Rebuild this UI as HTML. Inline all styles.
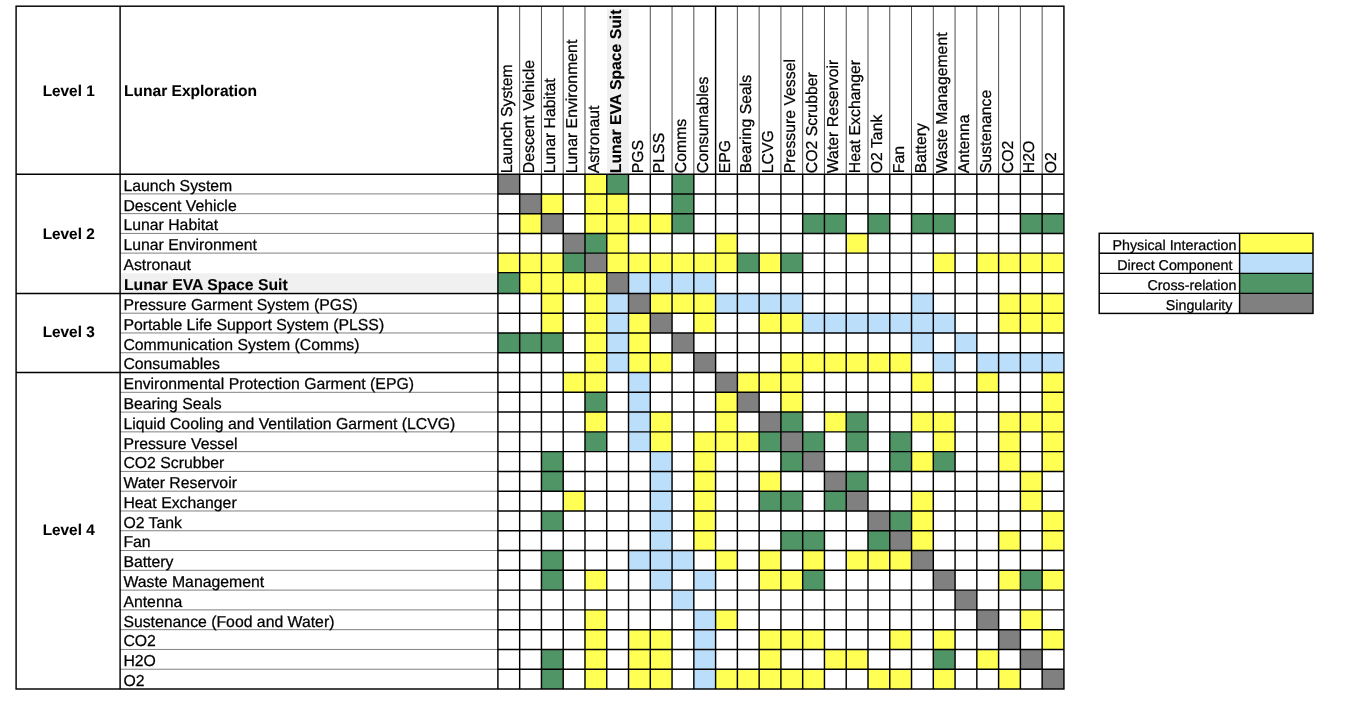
<!DOCTYPE html>
<html lang="en"><head><meta charset="utf-8"><title>Lunar Exploration DSM</title>
<style>html,body{margin:0;padding:0;background:#fff}svg{display:block}text{font-family:"Liberation Sans",Arial,Helvetica,sans-serif;fill:#000;stroke:#000;stroke-width:0.25px;text-rendering:geometricPrecision}.b{font-weight:bold;font-size:15.75px;stroke-width:0.1px}</style></head><body>
<svg width="1350" height="711" viewBox="0 0 1350 711">
<rect width="1350" height="711" fill="#fff"/>
<rect x="120.70" y="273.3" width="376.60" height="18.5" fill="#f0f0f0"/>
<g stroke="#4d4d4d" stroke-width="1">
<line x1="519.67" y1="6.2" x2="519.67" y2="174.2"/>
<line x1="541.44" y1="6.2" x2="541.44" y2="174.2"/>
<line x1="563.21" y1="6.2" x2="563.21" y2="174.2"/>
<line x1="584.98" y1="6.2" x2="584.98" y2="174.2"/>
<line x1="650.29" y1="6.2" x2="650.29" y2="174.2"/>
<line x1="672.06" y1="6.2" x2="672.06" y2="174.2"/>
<line x1="693.83" y1="6.2" x2="693.83" y2="174.2"/>
<line x1="737.37" y1="6.2" x2="737.37" y2="174.2"/>
<line x1="759.14" y1="6.2" x2="759.14" y2="174.2"/>
<line x1="780.91" y1="6.2" x2="780.91" y2="174.2"/>
<line x1="802.68" y1="6.2" x2="802.68" y2="174.2"/>
<line x1="824.45" y1="6.2" x2="824.45" y2="174.2"/>
<line x1="846.22" y1="6.2" x2="846.22" y2="174.2"/>
<line x1="867.99" y1="6.2" x2="867.99" y2="174.2"/>
<line x1="889.76" y1="6.2" x2="889.76" y2="174.2"/>
<line x1="911.53" y1="6.2" x2="911.53" y2="174.2"/>
<line x1="933.30" y1="6.2" x2="933.30" y2="174.2"/>
<line x1="955.07" y1="6.2" x2="955.07" y2="174.2"/>
<line x1="976.84" y1="6.2" x2="976.84" y2="174.2"/>
<line x1="998.61" y1="6.2" x2="998.61" y2="174.2"/>
<line x1="1020.38" y1="6.2" x2="1020.38" y2="174.2"/>
<line x1="1042.15" y1="6.2" x2="1042.15" y2="174.2"/>
</g>
<rect x="607.1" y="8.7" width="21.8" height="164.90" fill="#f0f0f0"/>
<g stroke="#808080" stroke-width="1">
<line x1="120.1" y1="193.90" x2="497.9" y2="193.90"/>
<line x1="120.1" y1="213.65" x2="497.9" y2="213.65"/>
<line x1="120.1" y1="233.40" x2="497.9" y2="233.40"/>
<line x1="120.1" y1="253.10" x2="497.9" y2="253.10"/>
<line x1="120.1" y1="313.18" x2="497.9" y2="313.18"/>
<line x1="120.1" y1="332.96" x2="497.9" y2="332.96"/>
<line x1="120.1" y1="352.74" x2="497.9" y2="352.74"/>
<line x1="120.1" y1="392.30" x2="497.9" y2="392.30"/>
<line x1="120.1" y1="412.08" x2="497.9" y2="412.08"/>
<line x1="120.1" y1="431.86" x2="497.9" y2="431.86"/>
<line x1="120.1" y1="451.64" x2="497.9" y2="451.64"/>
<line x1="120.1" y1="471.42" x2="497.9" y2="471.42"/>
<line x1="120.1" y1="491.20" x2="497.9" y2="491.20"/>
<line x1="120.1" y1="510.98" x2="497.9" y2="510.98"/>
<line x1="120.1" y1="530.76" x2="497.9" y2="530.76"/>
<line x1="120.1" y1="550.54" x2="497.9" y2="550.54"/>
<line x1="120.1" y1="570.32" x2="497.9" y2="570.32"/>
<line x1="120.1" y1="590.10" x2="497.9" y2="590.10"/>
<line x1="120.1" y1="609.88" x2="497.9" y2="609.88"/>
<line x1="120.1" y1="629.66" x2="497.9" y2="629.66"/>
<line x1="120.1" y1="649.44" x2="497.9" y2="649.44"/>
<line x1="120.1" y1="669.22" x2="497.9" y2="669.22"/>
</g>
<rect x="497.90" y="174.20" width="21.77" height="19.70" fill="#808080"/>
<rect x="584.98" y="174.20" width="21.77" height="19.70" fill="#ffff54"/>
<rect x="606.75" y="174.20" width="21.77" height="19.70" fill="#4f9565"/>
<rect x="672.06" y="174.20" width="21.77" height="19.70" fill="#4f9565"/>
<rect x="519.67" y="193.90" width="21.77" height="19.75" fill="#808080"/>
<rect x="541.44" y="193.90" width="21.77" height="19.75" fill="#ffff54"/>
<rect x="584.98" y="193.90" width="21.77" height="19.75" fill="#ffff54"/>
<rect x="606.75" y="193.90" width="21.77" height="19.75" fill="#ffff54"/>
<rect x="672.06" y="193.90" width="21.77" height="19.75" fill="#4f9565"/>
<rect x="519.67" y="213.65" width="21.77" height="19.75" fill="#ffff54"/>
<rect x="541.44" y="213.65" width="21.77" height="19.75" fill="#808080"/>
<rect x="584.98" y="213.65" width="21.77" height="19.75" fill="#ffff54"/>
<rect x="606.75" y="213.65" width="21.77" height="19.75" fill="#ffff54"/>
<rect x="628.52" y="213.65" width="21.77" height="19.75" fill="#ffff54"/>
<rect x="650.29" y="213.65" width="21.77" height="19.75" fill="#ffff54"/>
<rect x="672.06" y="213.65" width="21.77" height="19.75" fill="#4f9565"/>
<rect x="802.68" y="213.65" width="21.77" height="19.75" fill="#4f9565"/>
<rect x="824.45" y="213.65" width="21.77" height="19.75" fill="#4f9565"/>
<rect x="867.99" y="213.65" width="21.77" height="19.75" fill="#4f9565"/>
<rect x="911.53" y="213.65" width="21.77" height="19.75" fill="#4f9565"/>
<rect x="933.30" y="213.65" width="21.77" height="19.75" fill="#4f9565"/>
<rect x="1020.38" y="213.65" width="21.77" height="19.75" fill="#4f9565"/>
<rect x="1042.15" y="213.65" width="21.77" height="19.75" fill="#4f9565"/>
<rect x="563.21" y="233.40" width="21.77" height="19.70" fill="#808080"/>
<rect x="584.98" y="233.40" width="21.77" height="19.70" fill="#4f9565"/>
<rect x="606.75" y="233.40" width="21.77" height="19.70" fill="#ffff54"/>
<rect x="715.60" y="233.40" width="21.77" height="19.70" fill="#ffff54"/>
<rect x="846.22" y="233.40" width="21.77" height="19.70" fill="#ffff54"/>
<rect x="497.90" y="253.10" width="21.77" height="19.50" fill="#ffff54"/>
<rect x="519.67" y="253.10" width="21.77" height="19.50" fill="#ffff54"/>
<rect x="541.44" y="253.10" width="21.77" height="19.50" fill="#ffff54"/>
<rect x="563.21" y="253.10" width="21.77" height="19.50" fill="#4f9565"/>
<rect x="584.98" y="253.10" width="21.77" height="19.50" fill="#808080"/>
<rect x="606.75" y="253.10" width="21.77" height="19.50" fill="#ffff54"/>
<rect x="628.52" y="253.10" width="21.77" height="19.50" fill="#ffff54"/>
<rect x="650.29" y="253.10" width="21.77" height="19.50" fill="#ffff54"/>
<rect x="672.06" y="253.10" width="21.77" height="19.50" fill="#ffff54"/>
<rect x="693.83" y="253.10" width="21.77" height="19.50" fill="#ffff54"/>
<rect x="715.60" y="253.10" width="21.77" height="19.50" fill="#ffff54"/>
<rect x="737.37" y="253.10" width="21.77" height="19.50" fill="#4f9565"/>
<rect x="759.14" y="253.10" width="21.77" height="19.50" fill="#ffff54"/>
<rect x="780.91" y="253.10" width="21.77" height="19.50" fill="#4f9565"/>
<rect x="933.30" y="253.10" width="21.77" height="19.50" fill="#ffff54"/>
<rect x="976.84" y="253.10" width="21.77" height="19.50" fill="#ffff54"/>
<rect x="998.61" y="253.10" width="21.77" height="19.50" fill="#ffff54"/>
<rect x="1020.38" y="253.10" width="21.77" height="19.50" fill="#ffff54"/>
<rect x="1042.15" y="253.10" width="21.77" height="19.50" fill="#ffff54"/>
<rect x="497.90" y="272.60" width="21.77" height="20.80" fill="#4f9565"/>
<rect x="519.67" y="272.60" width="21.77" height="20.80" fill="#ffff54"/>
<rect x="541.44" y="272.60" width="21.77" height="20.80" fill="#ffff54"/>
<rect x="563.21" y="272.60" width="21.77" height="20.80" fill="#ffff54"/>
<rect x="584.98" y="272.60" width="21.77" height="20.80" fill="#ffff54"/>
<rect x="606.75" y="272.60" width="21.77" height="20.80" fill="#808080"/>
<rect x="628.52" y="272.60" width="21.77" height="20.80" fill="#bbdefb"/>
<rect x="650.29" y="272.60" width="21.77" height="20.80" fill="#bbdefb"/>
<rect x="672.06" y="272.60" width="21.77" height="20.80" fill="#bbdefb"/>
<rect x="693.83" y="272.60" width="21.77" height="20.80" fill="#bbdefb"/>
<rect x="541.44" y="293.40" width="21.77" height="19.78" fill="#ffff54"/>
<rect x="584.98" y="293.40" width="21.77" height="19.78" fill="#ffff54"/>
<rect x="606.75" y="293.40" width="21.77" height="19.78" fill="#bbdefb"/>
<rect x="628.52" y="293.40" width="21.77" height="19.78" fill="#808080"/>
<rect x="650.29" y="293.40" width="21.77" height="19.78" fill="#ffff54"/>
<rect x="672.06" y="293.40" width="21.77" height="19.78" fill="#ffff54"/>
<rect x="693.83" y="293.40" width="21.77" height="19.78" fill="#ffff54"/>
<rect x="715.60" y="293.40" width="21.77" height="19.78" fill="#bbdefb"/>
<rect x="737.37" y="293.40" width="21.77" height="19.78" fill="#bbdefb"/>
<rect x="759.14" y="293.40" width="21.77" height="19.78" fill="#bbdefb"/>
<rect x="780.91" y="293.40" width="21.77" height="19.78" fill="#bbdefb"/>
<rect x="911.53" y="293.40" width="21.77" height="19.78" fill="#bbdefb"/>
<rect x="998.61" y="293.40" width="21.77" height="19.78" fill="#ffff54"/>
<rect x="1020.38" y="293.40" width="21.77" height="19.78" fill="#ffff54"/>
<rect x="1042.15" y="293.40" width="21.77" height="19.78" fill="#ffff54"/>
<rect x="541.44" y="313.18" width="21.77" height="19.78" fill="#ffff54"/>
<rect x="584.98" y="313.18" width="21.77" height="19.78" fill="#ffff54"/>
<rect x="606.75" y="313.18" width="21.77" height="19.78" fill="#bbdefb"/>
<rect x="628.52" y="313.18" width="21.77" height="19.78" fill="#ffff54"/>
<rect x="650.29" y="313.18" width="21.77" height="19.78" fill="#808080"/>
<rect x="693.83" y="313.18" width="21.77" height="19.78" fill="#ffff54"/>
<rect x="759.14" y="313.18" width="21.77" height="19.78" fill="#ffff54"/>
<rect x="780.91" y="313.18" width="21.77" height="19.78" fill="#ffff54"/>
<rect x="802.68" y="313.18" width="21.77" height="19.78" fill="#bbdefb"/>
<rect x="824.45" y="313.18" width="21.77" height="19.78" fill="#bbdefb"/>
<rect x="846.22" y="313.18" width="21.77" height="19.78" fill="#bbdefb"/>
<rect x="867.99" y="313.18" width="21.77" height="19.78" fill="#bbdefb"/>
<rect x="889.76" y="313.18" width="21.77" height="19.78" fill="#bbdefb"/>
<rect x="911.53" y="313.18" width="21.77" height="19.78" fill="#bbdefb"/>
<rect x="933.30" y="313.18" width="21.77" height="19.78" fill="#bbdefb"/>
<rect x="998.61" y="313.18" width="21.77" height="19.78" fill="#ffff54"/>
<rect x="1020.38" y="313.18" width="21.77" height="19.78" fill="#ffff54"/>
<rect x="1042.15" y="313.18" width="21.77" height="19.78" fill="#ffff54"/>
<rect x="497.90" y="332.96" width="21.77" height="19.78" fill="#4f9565"/>
<rect x="519.67" y="332.96" width="21.77" height="19.78" fill="#4f9565"/>
<rect x="541.44" y="332.96" width="21.77" height="19.78" fill="#4f9565"/>
<rect x="584.98" y="332.96" width="21.77" height="19.78" fill="#ffff54"/>
<rect x="606.75" y="332.96" width="21.77" height="19.78" fill="#bbdefb"/>
<rect x="628.52" y="332.96" width="21.77" height="19.78" fill="#ffff54"/>
<rect x="672.06" y="332.96" width="21.77" height="19.78" fill="#808080"/>
<rect x="911.53" y="332.96" width="21.77" height="19.78" fill="#bbdefb"/>
<rect x="955.07" y="332.96" width="21.77" height="19.78" fill="#bbdefb"/>
<rect x="584.98" y="352.74" width="21.77" height="19.78" fill="#ffff54"/>
<rect x="606.75" y="352.74" width="21.77" height="19.78" fill="#bbdefb"/>
<rect x="628.52" y="352.74" width="21.77" height="19.78" fill="#ffff54"/>
<rect x="650.29" y="352.74" width="21.77" height="19.78" fill="#ffff54"/>
<rect x="693.83" y="352.74" width="21.77" height="19.78" fill="#808080"/>
<rect x="780.91" y="352.74" width="21.77" height="19.78" fill="#ffff54"/>
<rect x="802.68" y="352.74" width="21.77" height="19.78" fill="#ffff54"/>
<rect x="824.45" y="352.74" width="21.77" height="19.78" fill="#ffff54"/>
<rect x="846.22" y="352.74" width="21.77" height="19.78" fill="#ffff54"/>
<rect x="867.99" y="352.74" width="21.77" height="19.78" fill="#ffff54"/>
<rect x="889.76" y="352.74" width="21.77" height="19.78" fill="#ffff54"/>
<rect x="933.30" y="352.74" width="21.77" height="19.78" fill="#bbdefb"/>
<rect x="976.84" y="352.74" width="21.77" height="19.78" fill="#bbdefb"/>
<rect x="998.61" y="352.74" width="21.77" height="19.78" fill="#bbdefb"/>
<rect x="1020.38" y="352.74" width="21.77" height="19.78" fill="#bbdefb"/>
<rect x="1042.15" y="352.74" width="21.77" height="19.78" fill="#bbdefb"/>
<rect x="563.21" y="372.52" width="21.77" height="19.78" fill="#ffff54"/>
<rect x="584.98" y="372.52" width="21.77" height="19.78" fill="#ffff54"/>
<rect x="628.52" y="372.52" width="21.77" height="19.78" fill="#bbdefb"/>
<rect x="715.60" y="372.52" width="21.77" height="19.78" fill="#808080"/>
<rect x="737.37" y="372.52" width="21.77" height="19.78" fill="#ffff54"/>
<rect x="759.14" y="372.52" width="21.77" height="19.78" fill="#ffff54"/>
<rect x="780.91" y="372.52" width="21.77" height="19.78" fill="#ffff54"/>
<rect x="911.53" y="372.52" width="21.77" height="19.78" fill="#ffff54"/>
<rect x="976.84" y="372.52" width="21.77" height="19.78" fill="#ffff54"/>
<rect x="1042.15" y="372.52" width="21.77" height="19.78" fill="#ffff54"/>
<rect x="584.98" y="392.30" width="21.77" height="19.78" fill="#4f9565"/>
<rect x="628.52" y="392.30" width="21.77" height="19.78" fill="#bbdefb"/>
<rect x="715.60" y="392.30" width="21.77" height="19.78" fill="#ffff54"/>
<rect x="737.37" y="392.30" width="21.77" height="19.78" fill="#808080"/>
<rect x="780.91" y="392.30" width="21.77" height="19.78" fill="#ffff54"/>
<rect x="1042.15" y="392.30" width="21.77" height="19.78" fill="#ffff54"/>
<rect x="584.98" y="412.08" width="21.77" height="19.78" fill="#ffff54"/>
<rect x="628.52" y="412.08" width="21.77" height="19.78" fill="#bbdefb"/>
<rect x="650.29" y="412.08" width="21.77" height="19.78" fill="#ffff54"/>
<rect x="715.60" y="412.08" width="21.77" height="19.78" fill="#ffff54"/>
<rect x="759.14" y="412.08" width="21.77" height="19.78" fill="#808080"/>
<rect x="780.91" y="412.08" width="21.77" height="19.78" fill="#4f9565"/>
<rect x="824.45" y="412.08" width="21.77" height="19.78" fill="#ffff54"/>
<rect x="846.22" y="412.08" width="21.77" height="19.78" fill="#4f9565"/>
<rect x="911.53" y="412.08" width="21.77" height="19.78" fill="#ffff54"/>
<rect x="933.30" y="412.08" width="21.77" height="19.78" fill="#ffff54"/>
<rect x="998.61" y="412.08" width="21.77" height="19.78" fill="#ffff54"/>
<rect x="1020.38" y="412.08" width="21.77" height="19.78" fill="#ffff54"/>
<rect x="1042.15" y="412.08" width="21.77" height="19.78" fill="#ffff54"/>
<rect x="584.98" y="431.86" width="21.77" height="19.78" fill="#4f9565"/>
<rect x="628.52" y="431.86" width="21.77" height="19.78" fill="#bbdefb"/>
<rect x="650.29" y="431.86" width="21.77" height="19.78" fill="#ffff54"/>
<rect x="693.83" y="431.86" width="21.77" height="19.78" fill="#ffff54"/>
<rect x="715.60" y="431.86" width="21.77" height="19.78" fill="#ffff54"/>
<rect x="737.37" y="431.86" width="21.77" height="19.78" fill="#ffff54"/>
<rect x="759.14" y="431.86" width="21.77" height="19.78" fill="#4f9565"/>
<rect x="780.91" y="431.86" width="21.77" height="19.78" fill="#808080"/>
<rect x="802.68" y="431.86" width="21.77" height="19.78" fill="#4f9565"/>
<rect x="846.22" y="431.86" width="21.77" height="19.78" fill="#4f9565"/>
<rect x="889.76" y="431.86" width="21.77" height="19.78" fill="#4f9565"/>
<rect x="933.30" y="431.86" width="21.77" height="19.78" fill="#ffff54"/>
<rect x="998.61" y="431.86" width="21.77" height="19.78" fill="#ffff54"/>
<rect x="1042.15" y="431.86" width="21.77" height="19.78" fill="#ffff54"/>
<rect x="541.44" y="451.64" width="21.77" height="19.78" fill="#4f9565"/>
<rect x="650.29" y="451.64" width="21.77" height="19.78" fill="#bbdefb"/>
<rect x="693.83" y="451.64" width="21.77" height="19.78" fill="#ffff54"/>
<rect x="780.91" y="451.64" width="21.77" height="19.78" fill="#4f9565"/>
<rect x="802.68" y="451.64" width="21.77" height="19.78" fill="#808080"/>
<rect x="889.76" y="451.64" width="21.77" height="19.78" fill="#4f9565"/>
<rect x="911.53" y="451.64" width="21.77" height="19.78" fill="#ffff54"/>
<rect x="933.30" y="451.64" width="21.77" height="19.78" fill="#4f9565"/>
<rect x="998.61" y="451.64" width="21.77" height="19.78" fill="#ffff54"/>
<rect x="1042.15" y="451.64" width="21.77" height="19.78" fill="#ffff54"/>
<rect x="541.44" y="471.42" width="21.77" height="19.78" fill="#4f9565"/>
<rect x="650.29" y="471.42" width="21.77" height="19.78" fill="#bbdefb"/>
<rect x="693.83" y="471.42" width="21.77" height="19.78" fill="#ffff54"/>
<rect x="759.14" y="471.42" width="21.77" height="19.78" fill="#ffff54"/>
<rect x="824.45" y="471.42" width="21.77" height="19.78" fill="#808080"/>
<rect x="846.22" y="471.42" width="21.77" height="19.78" fill="#4f9565"/>
<rect x="1020.38" y="471.42" width="21.77" height="19.78" fill="#ffff54"/>
<rect x="563.21" y="491.20" width="21.77" height="19.78" fill="#ffff54"/>
<rect x="650.29" y="491.20" width="21.77" height="19.78" fill="#bbdefb"/>
<rect x="693.83" y="491.20" width="21.77" height="19.78" fill="#ffff54"/>
<rect x="759.14" y="491.20" width="21.77" height="19.78" fill="#4f9565"/>
<rect x="780.91" y="491.20" width="21.77" height="19.78" fill="#4f9565"/>
<rect x="824.45" y="491.20" width="21.77" height="19.78" fill="#4f9565"/>
<rect x="846.22" y="491.20" width="21.77" height="19.78" fill="#808080"/>
<rect x="911.53" y="491.20" width="21.77" height="19.78" fill="#ffff54"/>
<rect x="1020.38" y="491.20" width="21.77" height="19.78" fill="#ffff54"/>
<rect x="541.44" y="510.98" width="21.77" height="19.78" fill="#4f9565"/>
<rect x="650.29" y="510.98" width="21.77" height="19.78" fill="#bbdefb"/>
<rect x="693.83" y="510.98" width="21.77" height="19.78" fill="#ffff54"/>
<rect x="867.99" y="510.98" width="21.77" height="19.78" fill="#808080"/>
<rect x="889.76" y="510.98" width="21.77" height="19.78" fill="#4f9565"/>
<rect x="911.53" y="510.98" width="21.77" height="19.78" fill="#ffff54"/>
<rect x="1042.15" y="510.98" width="21.77" height="19.78" fill="#ffff54"/>
<rect x="650.29" y="530.76" width="21.77" height="19.78" fill="#bbdefb"/>
<rect x="693.83" y="530.76" width="21.77" height="19.78" fill="#ffff54"/>
<rect x="780.91" y="530.76" width="21.77" height="19.78" fill="#4f9565"/>
<rect x="802.68" y="530.76" width="21.77" height="19.78" fill="#4f9565"/>
<rect x="867.99" y="530.76" width="21.77" height="19.78" fill="#4f9565"/>
<rect x="889.76" y="530.76" width="21.77" height="19.78" fill="#808080"/>
<rect x="911.53" y="530.76" width="21.77" height="19.78" fill="#ffff54"/>
<rect x="998.61" y="530.76" width="21.77" height="19.78" fill="#ffff54"/>
<rect x="1042.15" y="530.76" width="21.77" height="19.78" fill="#ffff54"/>
<rect x="541.44" y="550.54" width="21.77" height="19.78" fill="#4f9565"/>
<rect x="628.52" y="550.54" width="21.77" height="19.78" fill="#bbdefb"/>
<rect x="650.29" y="550.54" width="21.77" height="19.78" fill="#bbdefb"/>
<rect x="672.06" y="550.54" width="21.77" height="19.78" fill="#bbdefb"/>
<rect x="715.60" y="550.54" width="21.77" height="19.78" fill="#ffff54"/>
<rect x="759.14" y="550.54" width="21.77" height="19.78" fill="#ffff54"/>
<rect x="802.68" y="550.54" width="21.77" height="19.78" fill="#ffff54"/>
<rect x="846.22" y="550.54" width="21.77" height="19.78" fill="#ffff54"/>
<rect x="867.99" y="550.54" width="21.77" height="19.78" fill="#ffff54"/>
<rect x="889.76" y="550.54" width="21.77" height="19.78" fill="#ffff54"/>
<rect x="911.53" y="550.54" width="21.77" height="19.78" fill="#808080"/>
<rect x="541.44" y="570.32" width="21.77" height="19.78" fill="#4f9565"/>
<rect x="584.98" y="570.32" width="21.77" height="19.78" fill="#ffff54"/>
<rect x="650.29" y="570.32" width="21.77" height="19.78" fill="#bbdefb"/>
<rect x="693.83" y="570.32" width="21.77" height="19.78" fill="#bbdefb"/>
<rect x="759.14" y="570.32" width="21.77" height="19.78" fill="#ffff54"/>
<rect x="780.91" y="570.32" width="21.77" height="19.78" fill="#ffff54"/>
<rect x="802.68" y="570.32" width="21.77" height="19.78" fill="#4f9565"/>
<rect x="933.30" y="570.32" width="21.77" height="19.78" fill="#808080"/>
<rect x="998.61" y="570.32" width="21.77" height="19.78" fill="#ffff54"/>
<rect x="1020.38" y="570.32" width="21.77" height="19.78" fill="#4f9565"/>
<rect x="1042.15" y="570.32" width="21.77" height="19.78" fill="#ffff54"/>
<rect x="672.06" y="590.10" width="21.77" height="19.78" fill="#bbdefb"/>
<rect x="955.07" y="590.10" width="21.77" height="19.78" fill="#808080"/>
<rect x="584.98" y="609.88" width="21.77" height="19.78" fill="#ffff54"/>
<rect x="693.83" y="609.88" width="21.77" height="19.78" fill="#bbdefb"/>
<rect x="715.60" y="609.88" width="21.77" height="19.78" fill="#ffff54"/>
<rect x="976.84" y="609.88" width="21.77" height="19.78" fill="#808080"/>
<rect x="1020.38" y="609.88" width="21.77" height="19.78" fill="#ffff54"/>
<rect x="584.98" y="629.66" width="21.77" height="19.78" fill="#ffff54"/>
<rect x="628.52" y="629.66" width="21.77" height="19.78" fill="#ffff54"/>
<rect x="650.29" y="629.66" width="21.77" height="19.78" fill="#ffff54"/>
<rect x="693.83" y="629.66" width="21.77" height="19.78" fill="#bbdefb"/>
<rect x="759.14" y="629.66" width="21.77" height="19.78" fill="#ffff54"/>
<rect x="780.91" y="629.66" width="21.77" height="19.78" fill="#ffff54"/>
<rect x="802.68" y="629.66" width="21.77" height="19.78" fill="#ffff54"/>
<rect x="889.76" y="629.66" width="21.77" height="19.78" fill="#ffff54"/>
<rect x="933.30" y="629.66" width="21.77" height="19.78" fill="#ffff54"/>
<rect x="998.61" y="629.66" width="21.77" height="19.78" fill="#808080"/>
<rect x="1042.15" y="629.66" width="21.77" height="19.78" fill="#ffff54"/>
<rect x="541.44" y="649.44" width="21.77" height="19.78" fill="#4f9565"/>
<rect x="584.98" y="649.44" width="21.77" height="19.78" fill="#ffff54"/>
<rect x="628.52" y="649.44" width="21.77" height="19.78" fill="#ffff54"/>
<rect x="650.29" y="649.44" width="21.77" height="19.78" fill="#ffff54"/>
<rect x="693.83" y="649.44" width="21.77" height="19.78" fill="#bbdefb"/>
<rect x="759.14" y="649.44" width="21.77" height="19.78" fill="#ffff54"/>
<rect x="824.45" y="649.44" width="21.77" height="19.78" fill="#ffff54"/>
<rect x="846.22" y="649.44" width="21.77" height="19.78" fill="#ffff54"/>
<rect x="933.30" y="649.44" width="21.77" height="19.78" fill="#4f9565"/>
<rect x="976.84" y="649.44" width="21.77" height="19.78" fill="#ffff54"/>
<rect x="1020.38" y="649.44" width="21.77" height="19.78" fill="#808080"/>
<rect x="541.44" y="669.22" width="21.77" height="19.78" fill="#4f9565"/>
<rect x="584.98" y="669.22" width="21.77" height="19.78" fill="#ffff54"/>
<rect x="628.52" y="669.22" width="21.77" height="19.78" fill="#ffff54"/>
<rect x="650.29" y="669.22" width="21.77" height="19.78" fill="#ffff54"/>
<rect x="693.83" y="669.22" width="21.77" height="19.78" fill="#bbdefb"/>
<rect x="715.60" y="669.22" width="21.77" height="19.78" fill="#ffff54"/>
<rect x="737.37" y="669.22" width="21.77" height="19.78" fill="#ffff54"/>
<rect x="759.14" y="669.22" width="21.77" height="19.78" fill="#ffff54"/>
<rect x="780.91" y="669.22" width="21.77" height="19.78" fill="#ffff54"/>
<rect x="802.68" y="669.22" width="21.77" height="19.78" fill="#ffff54"/>
<rect x="867.99" y="669.22" width="21.77" height="19.78" fill="#ffff54"/>
<rect x="889.76" y="669.22" width="21.77" height="19.78" fill="#ffff54"/>
<rect x="933.30" y="669.22" width="21.77" height="19.78" fill="#ffff54"/>
<rect x="998.61" y="669.22" width="21.77" height="19.78" fill="#ffff54"/>
<rect x="1042.15" y="669.22" width="21.77" height="19.78" fill="#808080"/>
<g stroke="#000" stroke-width="1.45" fill="none">
<line x1="519.67" y1="174.2" x2="519.67" y2="689.00"/>
<line x1="541.44" y1="174.2" x2="541.44" y2="689.00"/>
<line x1="563.21" y1="174.2" x2="563.21" y2="689.00"/>
<line x1="584.98" y1="174.2" x2="584.98" y2="689.00"/>
<line x1="606.75" y1="174.2" x2="606.75" y2="689.00"/>
<line x1="628.52" y1="174.2" x2="628.52" y2="689.00"/>
<line x1="650.29" y1="174.2" x2="650.29" y2="689.00"/>
<line x1="672.06" y1="174.2" x2="672.06" y2="689.00"/>
<line x1="693.83" y1="174.2" x2="693.83" y2="689.00"/>
<line x1="715.60" y1="174.2" x2="715.60" y2="689.00"/>
<line x1="737.37" y1="174.2" x2="737.37" y2="689.00"/>
<line x1="759.14" y1="174.2" x2="759.14" y2="689.00"/>
<line x1="780.91" y1="174.2" x2="780.91" y2="689.00"/>
<line x1="802.68" y1="174.2" x2="802.68" y2="689.00"/>
<line x1="824.45" y1="174.2" x2="824.45" y2="689.00"/>
<line x1="846.22" y1="174.2" x2="846.22" y2="689.00"/>
<line x1="867.99" y1="174.2" x2="867.99" y2="689.00"/>
<line x1="889.76" y1="174.2" x2="889.76" y2="689.00"/>
<line x1="911.53" y1="174.2" x2="911.53" y2="689.00"/>
<line x1="933.30" y1="174.2" x2="933.30" y2="689.00"/>
<line x1="955.07" y1="174.2" x2="955.07" y2="689.00"/>
<line x1="976.84" y1="174.2" x2="976.84" y2="689.00"/>
<line x1="998.61" y1="174.2" x2="998.61" y2="689.00"/>
<line x1="1020.38" y1="174.2" x2="1020.38" y2="689.00"/>
<line x1="1042.15" y1="174.2" x2="1042.15" y2="689.00"/>
<line x1="497.9" y1="193.90" x2="1063.92" y2="193.90"/>
<line x1="497.9" y1="213.65" x2="1063.92" y2="213.65"/>
<line x1="497.9" y1="233.40" x2="1063.92" y2="233.40"/>
<line x1="497.9" y1="253.10" x2="1063.92" y2="253.10"/>
<line x1="497.9" y1="272.60" x2="1063.92" y2="272.60"/>
<line x1="497.9" y1="313.18" x2="1063.92" y2="313.18"/>
<line x1="497.9" y1="332.96" x2="1063.92" y2="332.96"/>
<line x1="497.9" y1="352.74" x2="1063.92" y2="352.74"/>
<line x1="497.9" y1="392.30" x2="1063.92" y2="392.30"/>
<line x1="497.9" y1="412.08" x2="1063.92" y2="412.08"/>
<line x1="497.9" y1="431.86" x2="1063.92" y2="431.86"/>
<line x1="497.9" y1="451.64" x2="1063.92" y2="451.64"/>
<line x1="497.9" y1="471.42" x2="1063.92" y2="471.42"/>
<line x1="497.9" y1="491.20" x2="1063.92" y2="491.20"/>
<line x1="497.9" y1="510.98" x2="1063.92" y2="510.98"/>
<line x1="497.9" y1="530.76" x2="1063.92" y2="530.76"/>
<line x1="497.9" y1="550.54" x2="1063.92" y2="550.54"/>
<line x1="497.9" y1="570.32" x2="1063.92" y2="570.32"/>
<line x1="497.9" y1="590.10" x2="1063.92" y2="590.10"/>
<line x1="497.9" y1="609.88" x2="1063.92" y2="609.88"/>
<line x1="497.9" y1="629.66" x2="1063.92" y2="629.66"/>
<line x1="497.9" y1="649.44" x2="1063.92" y2="649.44"/>
<line x1="497.9" y1="669.22" x2="1063.92" y2="669.22"/>
<rect x="16.1" y="6.2" width="1047.82" height="682.80"/>
<line x1="120.1" y1="6.2" x2="120.1" y2="689.00"/>
<line x1="497.9" y1="6.2" x2="497.9" y2="689.00"/>
<line x1="715.60" y1="6.2" x2="715.60" y2="174.2"/>
<line x1="16.1" y1="174.20" x2="1063.92" y2="174.20"/>
<line x1="16.1" y1="293.40" x2="1063.92" y2="293.40"/>
<line x1="16.1" y1="372.52" x2="1063.92" y2="372.52"/>
</g>
<g font-size="15.8">
<text x="123.40" y="190.80">Launch System</text>
<text x="123.40" y="210.55">Descent Vehicle</text>
<text x="123.40" y="230.30">Lunar Habitat</text>
<text x="123.40" y="250.00">Lunar Environment</text>
<text x="123.40" y="269.50">Astronaut</text>
<text x="124.00" y="290.30" class="b">Lunar EVA Space Suit</text>
<text x="123.40" y="310.08">Pressure Garment System (PGS)</text>
<text x="123.40" y="329.86">Portable Life Support System (PLSS)</text>
<text x="123.40" y="349.64">Communication System (Comms)</text>
<text x="123.40" y="369.42">Consumables</text>
<text x="123.40" y="389.20">Environmental Protection Garment (EPG)</text>
<text x="123.40" y="408.98">Bearing Seals</text>
<text x="123.40" y="428.76">Liquid Cooling and Ventilation Garment (LCVG)</text>
<text x="123.40" y="448.54">Pressure Vessel</text>
<text x="123.40" y="468.32">CO2 Scrubber</text>
<text x="123.40" y="488.10">Water Reservoir</text>
<text x="123.40" y="507.88">Heat Exchanger</text>
<text x="123.40" y="527.66">O2 Tank</text>
<text x="123.40" y="547.44">Fan</text>
<text x="123.40" y="567.22">Battery</text>
<text x="123.40" y="587.00">Waste Management</text>
<text x="123.40" y="606.78">Antenna</text>
<text x="123.40" y="626.56">Sustenance (Food and Water)</text>
<text x="123.40" y="646.34">CO2</text>
<text x="123.40" y="666.12">H2O</text>
<text x="123.40" y="685.90">O2</text>
<text transform="translate(511.90 173.20) rotate(-90)">Launch System</text>
<text transform="translate(533.67 173.20) rotate(-90)">Descent Vehicle</text>
<text transform="translate(555.44 173.20) rotate(-90)">Lunar Habitat</text>
<text transform="translate(577.21 173.20) rotate(-90)">Lunar Environment</text>
<text transform="translate(598.98 173.20) rotate(-90)">Astronaut</text>
<text transform="translate(620.75 173.20) rotate(-90)" class="b">Lunar EVA Space Suit</text>
<text transform="translate(642.52 173.20) rotate(-90)">PGS</text>
<text transform="translate(664.29 173.20) rotate(-90)">PLSS</text>
<text transform="translate(686.06 173.20) rotate(-90)">Comms</text>
<text transform="translate(707.83 173.20) rotate(-90)">Consumables</text>
<text transform="translate(729.60 173.20) rotate(-90)">EPG</text>
<text transform="translate(751.37 173.20) rotate(-90)">Bearing Seals</text>
<text transform="translate(773.14 173.20) rotate(-90)">LCVG</text>
<text transform="translate(794.91 173.20) rotate(-90)">Pressure Vessel</text>
<text transform="translate(816.68 173.20) rotate(-90)">CO2 Scrubber</text>
<text transform="translate(838.45 173.20) rotate(-90)">Water Reservoir</text>
<text transform="translate(860.22 173.20) rotate(-90)">Heat Exchanger</text>
<text transform="translate(881.99 173.20) rotate(-90)">O2 Tank</text>
<text transform="translate(903.76 173.20) rotate(-90)">Fan</text>
<text transform="translate(925.53 173.20) rotate(-90)">Battery</text>
<text transform="translate(947.30 173.20) rotate(-90)">Waste Management</text>
<text transform="translate(969.07 173.20) rotate(-90)">Antenna</text>
<text transform="translate(990.84 173.20) rotate(-90)">Sustenance</text>
<text transform="translate(1012.61 173.20) rotate(-90)">CO2</text>
<text transform="translate(1034.38 173.20) rotate(-90)">H2O</text>
<text transform="translate(1056.15 173.20) rotate(-90)">O2</text>
<text class="b" style="font-size:15.35px" text-anchor="middle" x="68.70" y="95.80">Level 1</text>
<text class="b" style="font-size:15.35px" text-anchor="middle" x="68.70" y="238.70">Level 2</text>
<text class="b" style="font-size:15.35px" text-anchor="middle" x="68.70" y="336.96">Level 3</text>
<text class="b" style="font-size:15.35px" text-anchor="middle" x="68.70" y="535.36">Level 4</text>
<text class="b" style="font-size:15.55px" x="124.00" y="95.80">Lunar Exploration</text>
</g>
<rect x="1239.6" y="233.30" width="73.40" height="20.03" fill="#ffff54"/>
<rect x="1239.6" y="253.33" width="73.40" height="20.03" fill="#bbdefb"/>
<rect x="1239.6" y="273.36" width="73.40" height="20.03" fill="#4f9565"/>
<rect x="1239.6" y="293.39" width="73.40" height="20.03" fill="#808080"/>
<g stroke="#000" stroke-width="1.45" fill="none">
<rect x="1099.2" y="233.3" width="213.80" height="80.12"/>
<line x1="1239.6" y1="233.3" x2="1239.6" y2="313.42"/>
<line x1="1099.2" y1="253.33" x2="1313" y2="253.33"/>
<line x1="1099.2" y1="273.36" x2="1313" y2="273.36"/>
<line x1="1099.2" y1="293.39" x2="1313" y2="293.39"/>
</g>
<g font-size="14.3" text-anchor="end">
<text x="1236.40" y="250.13">Physical Interaction</text>
<text x="1232.50" y="270.16">Direct Component</text>
<text x="1236.40" y="290.19">Cross-relation</text>
<text x="1232.50" y="310.22">Singularity</text>
</g>
</svg></body></html>
